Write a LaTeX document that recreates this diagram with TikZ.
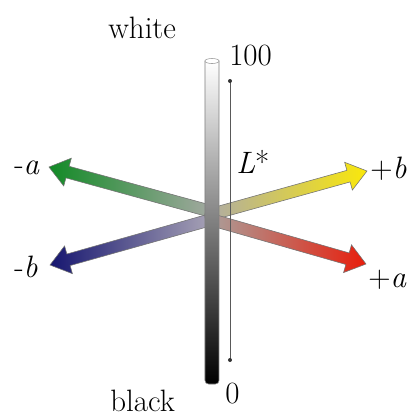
\documentclass[tikz,border=0pt]{standalone}
\usetikzlibrary{calc}
\definecolor{labgreen}{RGB}{18,138,38}
\definecolor{labblue}{RGB}{22,22,112}
\definecolor{labyellow}{RGB}{250,232,10}
\definecolor{labred}{RGB}{232,30,12}
\definecolor{greenbase}{RGB}{160,168,158}
\definecolor{bluebase}{RGB}{165,160,180}
\definecolor{yellowbase}{RGB}{178,174,158}
\definecolor{redbase}{RGB}{172,155,150}

\begin{document}
\begin{tikzpicture}[x=0.025cm,y=-0.025cm,
  lbl/.style={font=\fontsize{22}{26}\selectfont,inner sep=0pt,anchor=base west},
  axisarrow/.style={draw=black!55,line width=0.4pt}]
\useasboundingbox (0,0) rectangle (410,417);
% ends of the colour axes
\coordinate (baseA) at (206,210);
\coordinate (tipA) at (49,167);
\coordinate (baseB) at (206,221);
\coordinate (tipB) at (50,265);
\coordinate (basePB) at (216,213);
\coordinate (tipPB) at (367,171);
\coordinate (basePA) at (216,221);
\coordinate (tipPA) at (366,264);
\foreach \b/\t/\lc/\rc in {baseA/tipA/labgreen/greenbase,baseB/tipB/labblue/bluebase,
    basePB/tipPB/yellowbase/labyellow,basePA/tipPA/redbase/labred}{
  \coordinate (neck) at ($(\t)!0.48cm!(\b)$);
  \shade[axisarrow,left color=\lc,right color=\rc]
    ($(\b)!0.15cm!90:(\t)$) -- ($(neck)!0.15cm!-90:(\b)$) -- ($(neck)!0.36cm!-90:(\b)$)
    -- (\t) -- ($(neck)!0.36cm!90:(\b)$) -- ($(neck)!0.15cm!90:(\b)$)
    -- ($(\b)!0.15cm!-90:(\t)$) -- cycle;
}
% lightness bar
\shade[top color=white,bottom color=black,draw=black!50,line width=0.4pt]
  (205,61) [rounded corners=2.5pt] -- (205,384) -- (219,384) [sharp corners] -- (219,61) -- cycle;
\draw[fill=white,draw=black!40,line width=0.4pt] (212,61) ellipse [x radius=7,y radius=2.5];
% L* scale
\coordinate (ltop) at (230,81);
\coordinate (lbot) at (230,360);
\draw[black!65,line width=0.5pt] (ltop) -- (lbot);
\fill[black!80] (ltop) circle [radius=2] (lbot) circle [radius=2];
% labels
\node[lbl] (white) at (108,38) {white};
\node[lbl] (black) at (110,411) {black};
\node[lbl] (top) at (229,65) {100};
\node[lbl] (zero) at (225,403) {0};
\node[lbl] (lstar) at (236,173) {\textit{L}*};
\node[lbl] (minusa) at (14,174) {-\textit{a}};
\node[lbl] (minusb) at (14,277) {-\textit{b}};
\node[lbl] (plusb) at (370,178) {+\textit{b}};
\node[lbl] (plusa) at (368,287) {+\textit{a}};
\end{tikzpicture}
\end{document}
